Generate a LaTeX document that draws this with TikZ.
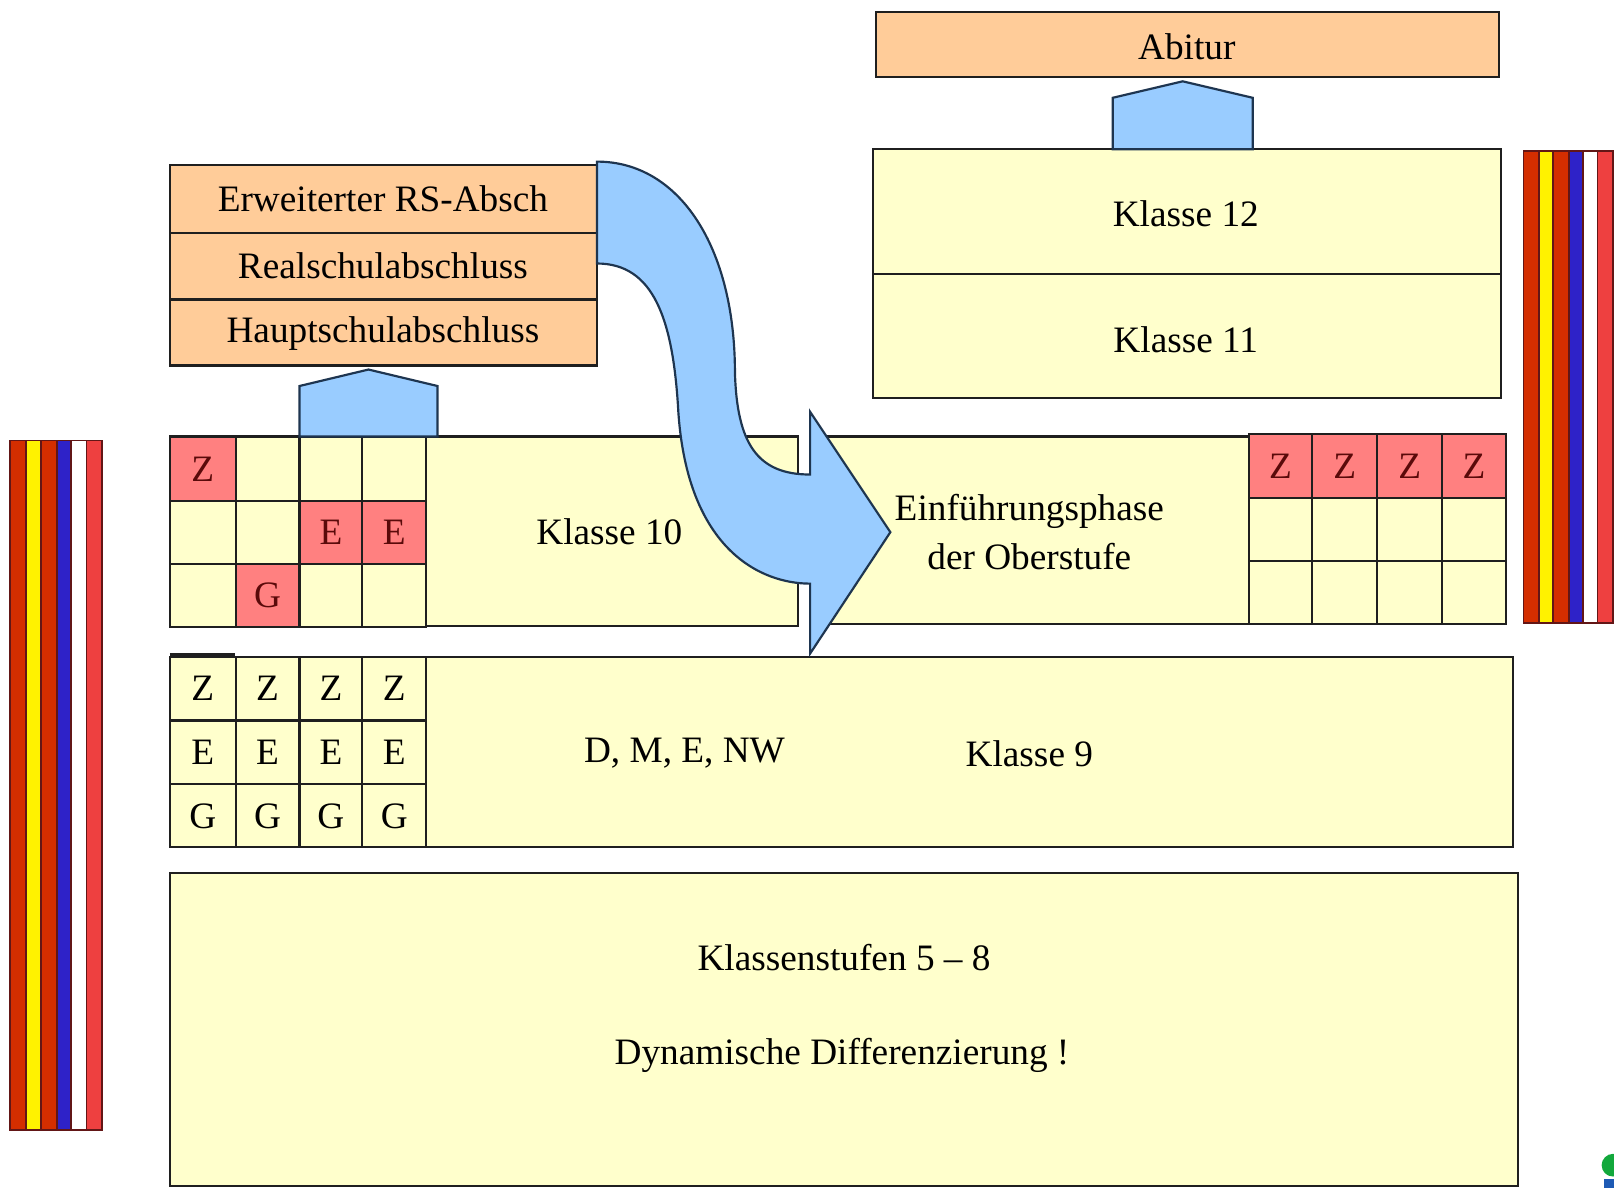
\documentclass[tikz,border=0pt]{standalone}
\usepackage{fontspec}
\setmainfont{Liberation Serif}
\definecolor{pale}{HTML}{FFFFCC}
\definecolor{peach}{HTML}{FFCC99}
\definecolor{rosy}{HTML}{FF8080}
\definecolor{sky}{HTML}{99CCFF}
\definecolor{rim}{HTML}{1F1F1F}
\definecolor{navy}{HTML}{1E3550}
\definecolor{darkred}{HTML}{5A0A0A}
\definecolor{flagred}{HTML}{D42E00}
\definecolor{flagyellow}{HTML}{FFF200}
\definecolor{flagblue}{HTML}{2E22C8}
\definecolor{flaglight}{HTML}{EE4040}
\definecolor{logogreen}{HTML}{12A83C}
\definecolor{logoblue}{HTML}{1E5AB4}

\begin{document}
\begin{tikzpicture}[x=0.01cm, y=-0.01cm,
    box/.style={draw=rim, fill=pale, line width=0.6pt},
    goal/.style={draw=rim, fill=peach, line width=0.6pt},
    hot/.style={draw=rim, fill=rosy, line width=0.6pt},
    band/.style={draw=rim!70!red, line width=0.5pt},
    lift/.style={draw=navy, fill=sky, line width=0.6pt, line join=miter},
    txt/.style={font=\fontsize{10.3}{13.4}\selectfont, inner sep=0pt, align=center},
    hottxt/.style={txt, text=darkred}]
    \useasboundingbox (0,0) rectangle (1568,1154);

    % stripes left
    \path [band, fill=flagred] (10,428) rectangle (25,1098);
    \path [band, fill=flagyellow] (25,428) rectangle (40,1098);
    \path [band, fill=flagred] (40,428) rectangle (55,1098);
    \path [band, fill=flagblue] (55,428) rectangle (69,1098);
    \path [band, fill=white] (69,428) rectangle (84,1098);
    \path [band, fill=flaglight] (84,428) rectangle (99,1098);

    % stripes right
    \path [band, fill=flagred] (1480,147) rectangle (1495,605);
    \path [band, fill=flagyellow] (1495,147) rectangle (1509,605);
    \path [band, fill=flagred] (1509,147) rectangle (1524,605);
    \path [band, fill=flagblue] (1524,147) rectangle (1538,605);
    \path [band, fill=white] (1538,147) rectangle (1552,605);
    \path [band, fill=flaglight] (1552,147) rectangle (1567,605);

    % Klassenstufen 5 - 8
    \path [box] (165,848) rectangle (1475,1152);
    \node [txt] (stufen) at (820,930) {Klassenstufen 5 -- 8};
    \node [txt] (dynamik) at (818,1025) {Dynamische Differenzierung !};

    % Klasse 9
    \path [box] (165,638) rectangle (1470,823);
    \foreach \xa/\xb/\i in {165/229/1, 229/291/2, 291/352/3, 352/414/4} {
      \path [box] (\xa,638) rectangle (\xb,700);
      \path [box] (\xa,700) rectangle (\xb,762);
      \path [box] (\xa,762) rectangle (\xb,823);
      \node [txt] (z9\i) at ({(\xa+\xb)/2},669) {Z};
      \node [txt] (e9\i) at ({(\xa+\xb)/2},731) {E};
      \node [txt] (g9\i) at ({(\xa+\xb)/2},793) {G};
    }
    \draw [rim, line width=1.4pt] (165,637) -- (228,637);
    \node [txt] (faecher) at (665,732) {D, M, E, NW};
    \node [txt] (k9) at (1000,732) {Klasse 9};

    % Klasse 10
    \path [box] (165,424) rectangle (775,608);
    \foreach \xa/\xb/\sa/\sb/\sc in {165/229/hot/box/box, 229/291/box/box/hot,
                                     291/352/box/hot/box, 352/414/box/hot/box} {
      \path [\sa] (\xa,424) rectangle (\xb,487);
      \path [\sb] (\xa,487) rectangle (\xb,548);
      \path [\sc] (\xa,548) rectangle (\xb,609);
    }
    \node [hottxt] (z10) at (197,456) {Z};
    \node [hottxt] (e10a) at (321.5,517) {E};
    \node [hottxt] (e10b) at (383,517) {E};
    \node [hottxt] (g10) at (260,578) {G};
    \node [txt] (k10) at (592,517) {Klasse 10};

    % Einfuehrungsphase
    \path [box] (787,424) rectangle (1213,606);
    \foreach \xa/\xb/\i in {1213/1275/1, 1275/1338/2, 1338/1401/3, 1401/1463/4} {
      \path [hot] (\xa,422) rectangle (\xb,484);
      \path [box] (\xa,484) rectangle (\xb,545);
      \path [box] (\xa,545) rectangle (\xb,606);
      \node [hottxt] (zo\i) at ({(\xa+\xb)/2},453) {Z};
    }
    \node [txt] (einf) at (1000,517) {Einführungsphase\\der Oberstufe};

    % Klasse 11 und 12
    \path [box] (848,145) rectangle (1458,266);
    \path [box] (848,266) rectangle (1458,387);
    \node [txt] (k12) at (1152,208) {Klasse 12};
    \node [txt] (k11) at (1152,330) {Klasse 11};

    % Abschluesse
    \path [goal] (851,12) rectangle (1456,75);
    \node [txt] (abi) at (1153,45) {Abitur};
    \path [goal] (165,160) rectangle (580,226);
    \path [goal] (165,226) rectangle (580,291);
    \path [goal] (165,291) rectangle (580,355);
    \node [txt] (ers) at (372,193) {Erweiterter RS-Absch};
    \node [txt] (rs) at (372,258) {Realschulabschluss};
    \node [txt] (hs) at (372,324) {Hauptschulabschluss};

    % Pfeile nach oben
    \path [lift] (291,424) -- (291,375) -- (358,359) -- (425,375) -- (425,424) -- cycle;
    \path [lift] (1081,145) -- (1081,95) -- (1149,79) -- (1217,95) -- (1217,145) -- cycle;

    % Bogenpfeil
    \path [lift] (580,157) .. controls (660,157) and (714,240) .. (714,362)
        .. controls (716,430) and (735,461) .. (787,461)
        -- (787,400) -- (865,517) -- (787,635) -- (787,567)
        .. controls (740,567) and (668,535) .. (659,400)
        .. controls (654,310) and (635,256) .. (580,256) -- cycle;

    % Logo-Rest
    \fill [logogreen] (1567,1132) circle (11);
    \fill [logoblue] (1558,1145) rectangle (1568,1154);
\end{tikzpicture}
\end{document}
